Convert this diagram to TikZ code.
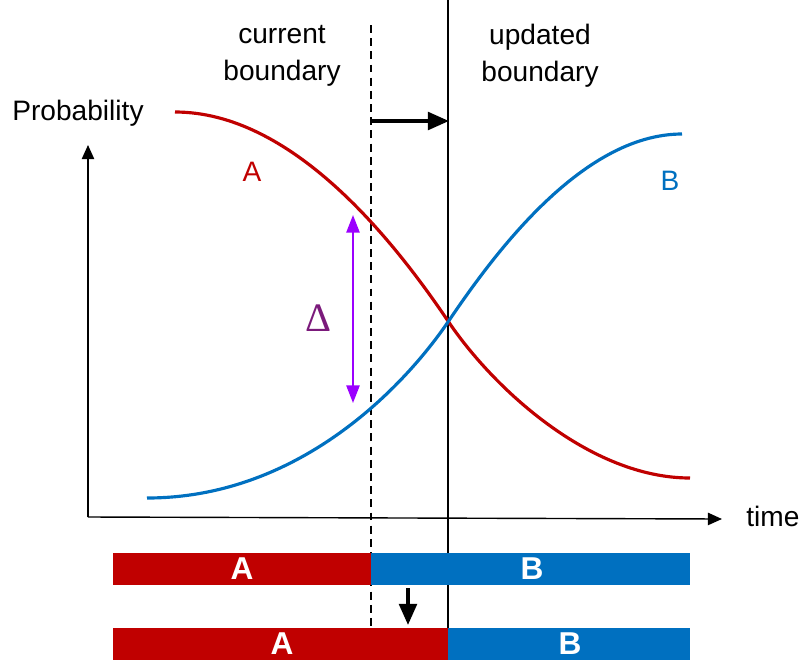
\documentclass[tikz,border=0pt]{standalone}
\usepackage{fontspec}
\setmainfont{Liberation Sans}
\newfontfamily\deltafont{Liberation Serif}
\usepackage{tikz}
\usetikzlibrary{positioning,arrows.meta,calc}

\definecolor{curvered}{HTML}{C00000}
\definecolor{curveblue}{HTML}{0070C0}
\definecolor{deltapurple}{HTML}{9B00FF}
\definecolor{deltatext}{HTML}{7B1A7B}

\begin{document}
\begin{tikzpicture}[
  x=0.02cm, y=-0.02cm,
  font=\fontsize{16}{21}\selectfont,
  >=Triangle,
  axisline/.style={->, draw=black, line width=0.8pt, >={Triangle[length=8pt,width=7pt]}},
  bndline/.style={draw=black, line width=0.9pt},
  shiftarrow/.style={->, draw=black, line width=2.1pt, >={Triangle[length=12pt,width=10pt]}},
  redcurve/.style={draw=curvered, line width=1.8pt},
  bluecurve/.style={draw=curveblue, line width=1.8pt},
  redbar/.style={fill=curvered, draw=none},
  bluebar/.style={fill=curveblue, draw=none},
  barlabel/.style={text=white, font=\fontsize{18}{20}\selectfont\bfseries}
]
  \useasboundingbox (0,0) rectangle (812,670);

  % axes
  \coordinate (orig) at (88,517);
  \coordinate (ytop) at (88,145);
  \coordinate (xend) at (722,519);
  \draw[axisline] (orig) -- (ytop);
  \draw[axisline] (orig) -- (xend);
  \node[anchor=west, inner sep=0pt] (ylab) at (12,113) {Probability};
  \node[anchor=west, inner sep=0pt] (xlab) at (746,516) {time};

  % boundaries
  \coordinate (curtop) at (371,25);
  \coordinate (curbot) at (371,628);
  \coordinate (newtop) at (448,0);
  \coordinate (newbot) at (448,660);
  \draw[bndline, dash pattern=on 4.5pt off 3pt] (curtop) -- (curbot);
  \draw[bndline] (newtop) -- (newbot);
  \node[align=center, inner sep=0pt] (curlab) at (282,56) {current\\boundary};
  \node[align=center, inner sep=0pt] (newlab) at (540,56) {updated\\boundary};

  \coordinate (shiftA) at (371,121);
  \coordinate (shiftB) at (449,121);
  \draw[shiftarrow] (shiftA) -- (shiftB);

  % curves
  \draw[redcurve] (175,112) .. controls (290,112) and (390,235) .. (448,321)
    .. controls (493,388) and (590,478) .. (690,478);
  \draw[bluecurve] (147,498) .. controls (300,498) and (405,385) .. (448,322)
    .. controls (490,260) and (580,134) .. (682,134);
  \node[text=curvered] (labA) at (252,172) {A};
  \node[text=curveblue] (labB) at (670,181) {B};

  % difference
  \coordinate (dtop) at (353,215);
  \coordinate (dbot) at (353,403);
  \draw[<->, draw=deltapurple, line width=1.1pt, >={Triangle[length=10pt,width=7.5pt]}] (dbot) -- (dtop);
  \node[text=deltatext, font=\fontsize{23}{25}\selectfont\deltafont] (dlab) at (318,318) {Δ};

  % bars
  \fill[redbar] (113,553) rectangle (371,585);
  \fill[bluebar] (371,553) rectangle (690,585);
  \node[barlabel] (barA1) at (242,569) {A};
  \node[barlabel] (barB1) at (532,569) {B};

  \coordinate (downA) at (408,588);
  \coordinate (downB) at (408,625);
  \draw[shiftarrow] (downA) -- (downB);

  \fill[redbar] (113,628) rectangle (448,660);
  \fill[bluebar] (448,628) rectangle (690,660);
  \node[barlabel] (barA2) at (282,644) {A};
  \node[barlabel] (barB2) at (570,644) {B};
\end{tikzpicture}
\end{document}
